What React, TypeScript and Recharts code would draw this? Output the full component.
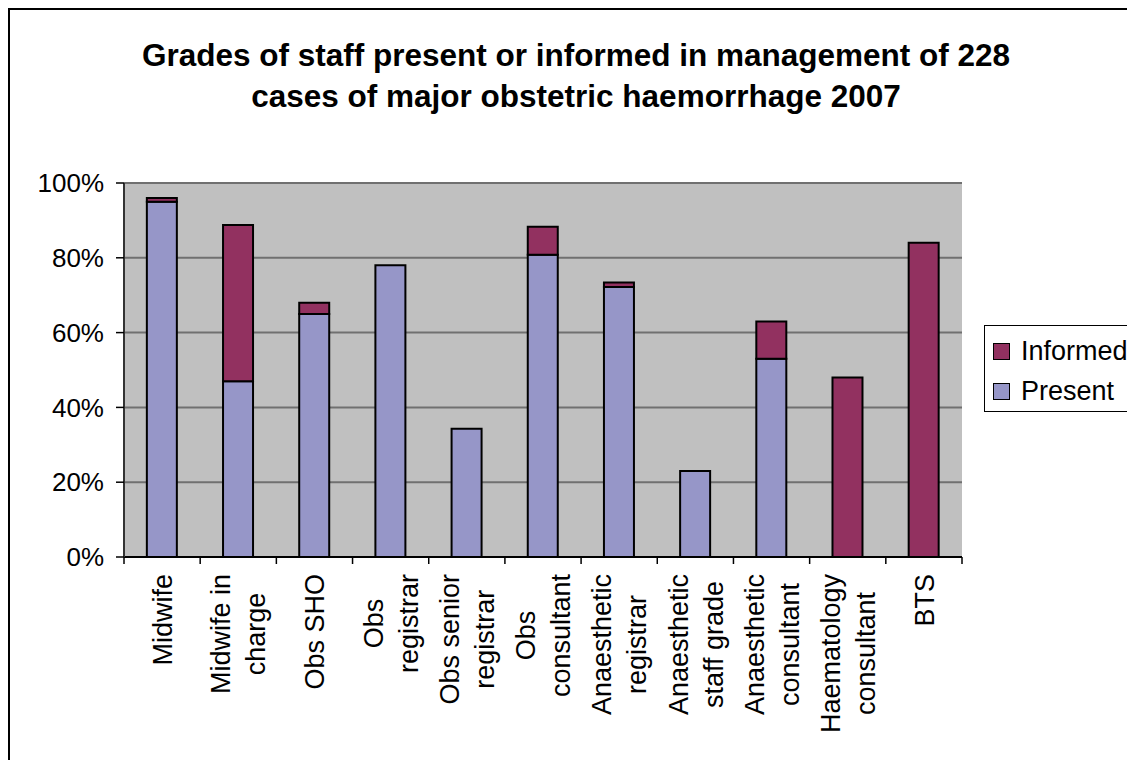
import React from "react";
import { BarChart, Bar, XAxis, YAxis, CartesianGrid } from "recharts";

const CATEGORIES = [
  "Midwife",
  "Midwife in\ncharge",
  "Obs SHO",
  "Obs\nregistrar",
  "Obs senior\nregistrar",
  "Obs\nconsultant",
  "Anaesthetic\nregistrar",
  "Anaesthetic\nstaff grade",
  "Anaesthetic\nconsultant",
  "Haematology\nconsultant",
  "BTS",
];
const PRESENT = [95, 47, 65, 78, 34.3, 80.8, 72.2, 23, 53, 0, 0];
const INFORMED = [1, 41.8, 3, 0, 0, 7.5, 1.2, 0, 10, 48, 84];
const Y_TICKS = [0, 20, 40, 60, 80, 100];
const TITLE_LINES = [
  "Grades of staff present or informed in management of 228",
  "cases of major obstetric haemorrhage 2007",
];
const SERIES = [
  { key: "present", name: "Present", color: "#9696C8" },
  { key: "informed", name: "Informed", color: "#923160" },
];

const data = CATEGORIES.map((c, i) => ({
  name: c,
  present: PRESENT[i],
  informed: INFORMED[i],
}));

const FONT = '"Liberation Sans", Arial, sans-serif';
const FS = 27;
const CHART_W = 1125;
const CHART_H = 750;
const MARGIN = { top: 173, right: 173, bottom: 13, left: 0 };
const Y_W = 114;
const X_H = 190;
const PLOT_W = CHART_W - MARGIN.left - MARGIN.right - Y_W;
const BAND = PLOT_W / CATEGORIES.length;

let ctx: CanvasRenderingContext2D | null = null;
function measure(s: string): number {
  if (typeof document === "undefined") return s.length * FS * 0.55;
  if (!ctx) ctx = document.createElement("canvas").getContext("2d");
  if (!ctx) return s.length * FS * 0.55;
  ctx.font = `${FS}px "Liberation Sans"`;
  return ctx.measureText(s).width;
}

function XTick(props: any) {
  const { x, y, payload, index } = props;
  const half = payload && typeof payload.offset === "number" && payload.offset > 0 ? payload.offset : BAND / 2;
  const lines = String(payload.value).split("\n");
  const maxLen = Math.max(...lines.map(measure));
  const cy = y + 17 + maxLen / 2;
  const spacing = 35;
  const n = lines.length;
  const bx0 = x + 0.36 * FS - ((n - 1) * spacing) / 2;
  return (
    <g>
      <line x1={x - half} x2={x - half} y1={y} y2={y + 7} stroke="#000" strokeWidth={1.5} />
      {index === CATEGORIES.length - 1 && (
        <line x1={x + half} x2={x + half} y1={y} y2={y + 7} stroke="#000" strokeWidth={1.5} />
      )}
      {lines.map((l, i) => {
        const bx = bx0 + i * spacing;
        return (
          <text
            key={i}
            x={bx}
            y={cy}
            transform={`rotate(-90 ${bx} ${cy})`}
            textAnchor="middle"
            fontSize={FS}
            fontFamily={FONT}
            fill="#000"
          >
            {l}
          </text>
        );
      })}
    </g>
  );
}

export default function App() {
  const legendItems = [...SERIES].reverse();
  return (
    <div
      style={{
        position: "relative",
        width: 1127,
        height: 752,
        boxSizing: "border-box",
        borderLeft: "2px solid #000",
        borderTop: "2px solid #000",
        overflow: "hidden",
        background: "#fff",
        fontFamily: FONT,
      }}
    >
      <div
        style={{
          position: "absolute",
          left: 0,
          top: 25,
          width: 1132,
          textAlign: "center",
          fontSize: 31.5,
          lineHeight: "41px",
          fontWeight: "bold",
          color: "#000",
        }}
      >
        {TITLE_LINES.map((t, i) => (
          <div key={i}>{t}</div>
        ))}
      </div>
      <BarChart
        width={CHART_W}
        height={CHART_H}
        data={data}
        margin={MARGIN}
        barCategoryGap="30%"
      >
        <CartesianGrid
          vertical={false}
          fill="#C0C0C0"
          fillOpacity={1}
          stroke="#707070"
          strokeWidth={2}
        />
        <XAxis
          dataKey="name"
          height={X_H}
          interval={0}
          tickSize={0}
          tickMargin={0}
          tickLine={false}
          axisLine={{ stroke: "#000", strokeWidth: 2 }}
          tick={<XTick />}
        />
        <YAxis
          width={Y_W}
          domain={[0, 100]}
          ticks={Y_TICKS}
          interval={0}
          tickFormatter={(v: number) => `${v}%`}
          tickSize={8}
          tickMargin={12}
          tickLine={{ stroke: "#000", strokeWidth: 1.5 }}
          axisLine={{ stroke: "#333", strokeWidth: 2 }}
          tick={{ fill: "#000", fontSize: 26, fontFamily: FONT }}
        />
        <YAxis
          yAxisId="right"
          orientation="right"
          width={0}
          domain={[0, 100]}
          tick={false}
          tickLine={false}
          axisLine={{ stroke: "#808080", strokeWidth: 2 }}
        />
        {SERIES.map((s) => (
          <Bar
            key={s.key}
            dataKey={s.key}
            name={s.name}
            stackId="a"
            fill={s.color}
            stroke="#000"
            strokeWidth={2}
            isAnimationActive={false}
          />
        ))}
      </BarChart>
      <div
        style={{
          position: "absolute",
          left: 974,
          top: 315,
          width: 170,
          height: 87,
          boxSizing: "border-box",
          border: "1.5px solid #000",
          background: "#fff",
        }}
      >
        {legendItems.map((s, i) => (
          <div
            key={s.key}
            style={{
              position: "absolute",
              left: 8,
              top: 10 + i * 40,
              height: 30,
              display: "flex",
              alignItems: "center",
              fontSize: FS,
              color: "#000",
              whiteSpace: "nowrap",
            }}
          >
            <span
              style={{
                display: "inline-block",
                width: 17,
                height: 17,
                background: s.color,
                border: "1.5px solid #000",
                boxSizing: "border-box",
                marginRight: 11,
              }}
            />
            {s.name}
          </div>
        ))}
      </div>
    </div>
  );
}
